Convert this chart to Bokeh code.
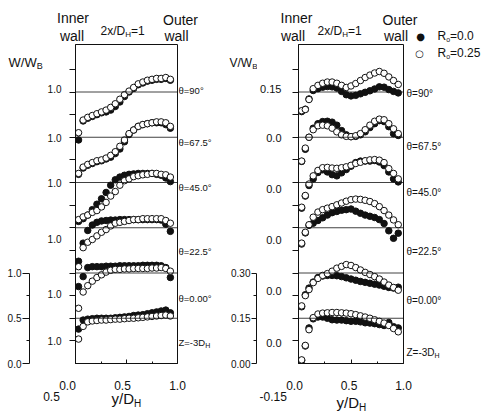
from bokeh.plotting import figure
from bokeh.models import (Range1d, LinearAxis, FixedTicker, NumeralTickFormatter,
                          CustomJSTickFormatter, Span, Label, ColumnDataSource)
from bokeh.layouts import row, column
from bokeh.embed import file_html
from bokeh.resources import INLINE

FONT = "Liberation Sans"
INK = "#111111"

# ---------------- data ----------------
STATIONS = ["θ=90°", "θ=67.5°", "θ=45.0°", "θ=22.5°", "θ=0.00°", "Z=-3D"]

# measurement positions y/D_H
X_LEFT = [0.03, 0.075, 0.12, 0.165, 0.21, 0.255, 0.30, 0.345, 0.39, 0.435, 0.48,
          0.525, 0.57, 0.615, 0.66, 0.705, 0.75, 0.795, 0.84, 0.885, 0.93]
X_RIGHT = [0.03, 0.065, 0.10, 0.14, 0.185, 0.23, 0.275, 0.32, 0.365, 0.41, 0.455,
           0.50, 0.545, 0.59, 0.635, 0.68, 0.725, 0.77, 0.815, 0.86, 0.905, 0.95]

# W/W_B, Ro = 0.0 (filled) and Ro = 0.25 (open)
W90_R0 = [0.47, 0.68, 0.71, 0.73, 0.75, 0.77, 0.78, 0.80, 0.84, 0.89, 0.95, 1.00, 1.04, 1.08, 1.10, 1.12, 1.13, 1.14, 1.14, 1.15, 1.13]
W90_R25 = [0.55, 0.69, 0.72, 0.74, 0.76, 0.78, 0.80, 0.83, 0.87, 0.92, 0.97, 1.01, 1.05, 1.09, 1.11, 1.13, 1.14, 1.15, 1.15, 1.16, 1.14]
W67_R0 = [0.59, 0.66, 0.69, 0.71, 0.73, 0.74, 0.76, 0.78, 0.82, 0.87, 0.95, 1.03, 1.08, 1.12, 1.14, 1.15, 1.16, 1.16, 1.16, 1.14, 1.10]
W67_R25 = [0.60, 0.67, 0.70, 0.72, 0.74, 0.75, 0.77, 0.80, 0.84, 0.90, 0.97, 1.04, 1.08, 1.12, 1.14, 1.15, 1.16, 1.17, 1.17, 1.16, 1.12]
W45_R0 = [0.57, 0.60, 0.64, 0.70, 0.76, 0.82, 0.89, 0.97, 1.03, 1.06, 1.08, 1.09, 1.095, 1.10, 1.10, 1.10, 1.10, 1.09, 1.08, 1.05, 1.01]
W45_R25 = [0.59, 0.62, 0.64, 0.67, 0.69, 0.73, 0.78, 0.85, 0.90, 0.97, 1.02, 1.04, 1.065, 1.075, 1.085, 1.09, 1.10, 1.10, 1.09, 1.085, 1.06]
W22_R0 = [0.63, 0.83, 0.97, 1.03, 1.06, 1.075, 1.08, 1.085, 1.085, 1.09, 1.09, 1.09, 1.09, 1.09, 1.09, 1.09, 1.09, 1.09, 1.085, 1.04, 0.96]
W22_R25 = [0.57, 0.78, 0.84, 0.87, 0.91, 0.95, 0.98, 1.02, 1.05, 1.06, 1.07, 1.08, 1.09, 1.09, 1.10, 1.10, 1.10, 1.10, 1.10, 1.08, 1.05]
W00_R0 = [0.85, 0.96, 1.06, 1.07, 1.07, 1.07, 1.075, 1.075, 1.075, 1.08, 1.08, 1.08, 1.08, 1.08, 1.085, 1.085, 1.085, 1.085, 1.08, 1.06, 0.95]
W00_R25 = [0.61, 0.79, 0.86, 0.91, 0.95, 0.98, 1.01, 1.03, 1.04, 1.04, 1.045, 1.045, 1.05, 1.05, 1.05, 1.05, 1.055, 1.055, 1.06, 1.05, 1.02]
WZ_R0 = [0.88, 0.98, 0.99, 0.995, 1.0, 1.0, 1.0, 1.0, 1.005, 1.01, 1.015, 1.02, 1.03, 1.035, 1.04, 1.05, 1.06, 1.07, 1.08, 1.09, 1.06]
WZ_R25 = [0.77, 0.91, 0.96, 0.97, 0.975, 0.98, 0.98, 0.985, 0.99, 0.99, 0.995, 1.0, 1.0, 1.005, 1.01, 1.015, 1.02, 1.025, 1.03, 1.035, 1.025]

# V/W_B
V90_R0 = [0.085, 0.093, 0.127, 0.155, 0.161, 0.166, 0.168, 0.167, 0.163, 0.152, 0.141, 0.137, 0.139, 0.144, 0.149, 0.154, 0.160, 0.167, 0.166, 0.158, 0.152, 0.147]
V90_R25 = [0.088, 0.092, 0.125, 0.161, 0.172, 0.179, 0.183, 0.183, 0.179, 0.172, 0.165, 0.170, 0.178, 0.188, 0.198, 0.206, 0.213, 0.218, 0.212, 0.200, 0.188, 0.175]
V67_R0 = [-0.080, -0.040, 0.000, 0.030, 0.045, 0.052, 0.053, 0.050, 0.040, 0.022, 0.008, 0.002, 0.003, 0.008, 0.018, 0.032, 0.045, 0.055, 0.052, 0.035, 0.012, 0.006]
V67_R25 = [-0.079, -0.036, 0.000, 0.025, 0.038, 0.040, 0.038, 0.030, 0.018, 0.008, 0.003, 0.002, 0.005, 0.012, 0.025, 0.040, 0.053, 0.060, 0.058, 0.045, 0.028, 0.012]
V45_R0 = [-0.085, -0.045, -0.010, 0.012, 0.033, 0.042, 0.035, 0.026, 0.022, 0.032, 0.043, 0.054, 0.066, 0.071, 0.071, 0.071, 0.073, 0.068, 0.056, 0.035, 0.012, 0.002]
V45_R25 = [-0.082, -0.043, -0.005, 0.022, 0.040, 0.049, 0.050, 0.048, 0.047, 0.049, 0.052, 0.057, 0.063, 0.067, 0.072, 0.075, 0.076, 0.074, 0.066, 0.046, 0.030, 0.012]
V22_R0 = [-0.054, -0.017, 0.008, 0.015, 0.024, 0.033, 0.042, 0.050, 0.054, 0.058, 0.060, 0.062, 0.055, 0.048, 0.042, 0.038, 0.034, 0.027, 0.014, -0.010, -0.035, -0.018]
V22_R25 = [-0.051, -0.015, 0.010, 0.035, 0.052, 0.060, 0.065, 0.070, 0.076, 0.082, 0.088, 0.093, 0.095, 0.094, 0.091, 0.087, 0.080, 0.070, 0.057, 0.042, 0.026, 0.010]
V00_R0 = [-0.112, -0.072, -0.050, -0.030, -0.015, -0.010, -0.008, -0.008, -0.009, -0.012, -0.016, -0.020, -0.024, -0.028, -0.031, -0.034, -0.037, -0.040, -0.044, -0.048, -0.050, -0.047]
V00_R25 = [-0.109, -0.075, -0.055, -0.032, -0.018, -0.008, -0.002, 0.006, 0.016, 0.022, 0.028, 0.025, 0.018, 0.010, 0.002, -0.005, -0.012, -0.020, -0.030, -0.040, -0.048, -0.057]
VZ_R0 = [-0.140, -0.092, -0.032, -0.002, 0.004, 0.004, 0.000, -0.005, -0.006, -0.006, -0.008, -0.010, -0.010, -0.012, -0.015, -0.016, -0.018, -0.021, -0.024, -0.014, -0.028, -0.032]
VZ_R25 = [-0.138, -0.090, -0.038, 0.002, 0.014, 0.017, 0.018, 0.019, 0.019, 0.018, 0.017, 0.015, 0.012, 0.008, 0.004, 0.000, -0.005, -0.010, -0.016, -0.024, -0.034, -0.045]

W_R0 = [W90_R0, W67_R0, W45_R0, W22_R0, W00_R0, WZ_R0]
W_R25 = [W90_R25, W67_R25, W45_R25, W22_R25, W00_R25, WZ_R25]
V_R0 = [V90_R0, V67_R0, V45_R0, V22_R0, V00_R0, VZ_R0]
V_R25 = [V90_R25, V67_R25, V45_R25, V22_R25, V00_R25, VZ_R25]

# stacking offset of each station and position of its reference line
W_OFFSET = [2.0, 1.5, 1.0, 0.5, 0.0, -0.5]
W_LINES = [3.0, 2.5, 2.0, 1.5, 1.0, 0.5]
V_OFFSET = [0.75, 0.75, 0.60, 0.45, 0.30, 0.15]
V_LINES = [0.90, 0.75, 0.60, 0.45, 0.30, 0.15]

# ---------------- geometry (page pixels) ----------------
PX_PER_W = 90.5            # pixels for 1.0 of W/W_B (0.15 of V/W_B -> 0.3 ratio)
FRAME_BOT = 363
MAIN_H = 327               # main row spans y 43..370
W_TOP = 319 / PX_PER_W
V_TOP = W_TOP * 0.3
SCALE_TOP = 123 / PX_PER_W  # scale-bar figures span y 240..370

AW = {"W": 944, "/": 278, "V": 667, "B": 667, "y": 500, "D": 722, "H": 722, "x": 500,
      "2": 556, "=": 584, "1": 556, "Z": 611, "-": 333, "3": 556, "R": 722, "o": 556,
      "0": 556, ".": 278, "5": 556}


def tw(s, size):
    return sum(AW.get(c, 556) for c in s) / 1000.0 * size


def base_fig(w, h, xr, yr, left=0, right=0, top=0, bottom=0):
    p = figure(width=w, height=h, x_range=xr, y_range=yr, x_axis_type=None,
               y_axis_type=None, toolbar_location=None, output_backend="svg", title=None,
               min_border_left=left, min_border_right=right, min_border_top=top,
               min_border_bottom=bottom)
    p.outline_line_color = None
    p.background_fill_color = "white"
    p.border_fill_color = "white"
    return p


def text_fig(x0, y0, w, h):
    # a figure whose frame is its whole canvas, in page-pixel coordinates (y down);
    # wrapped in a row so that sibling plots do not realign its borders
    p = base_fig(w, h, Range1d(x0, x0 + w), Range1d(y0 + h, y0))
    return p


def put(p, px, py, text, size, align="left", font=FONT):
    p.add_layout(Label(x=px, y=py, text=text, text_font=font, text_font_size=f"{size}px",
                       text_color=INK, text_align=align, text_baseline="middle"))


def put_sub(p, px, py, main, sub, size, sub_size, tail="", align="left"):
    total = tw(main, size) + tw(sub, sub_size) + tw(tail, size)
    if align == "right":
        px -= total
    elif align == "center":
        px -= total / 2
    put(p, px, py, main, size)
    sx = px + tw(main, size)
    put(p, sx, py + size * 0.3, sub, sub_size)
    if tail:
        put(p, sx + tw(sub, sub_size), py, tail, size)


def style_axis(ax, size):
    ax.axis_line_color = INK
    ax.major_tick_line_color = INK
    ax.minor_tick_line_color = INK
    ax.major_label_text_font = FONT
    ax.major_label_text_font_size = f"{size}px"
    ax.major_label_text_color = INK


def panel(w, left, ytop, lines, minor, label_pos, label_code, label_standoff, label_size,
          xs, f_series, o_series, offsets):
    p = base_fig(w, MAIN_H, Range1d(0, 1), Range1d(0, ytop), left=left, right=1, top=1, bottom=7)
    p.outline_line_color = INK
    p.outline_line_width = 1
    yax = LinearAxis(ticker=FixedTicker(ticks=label_pos, minor_ticks=minor),
                     formatter=CustomJSTickFormatter(code=label_code))
    style_axis(yax, label_size)
    yax.major_tick_out = 0
    yax.major_tick_in = 0
    yax.minor_tick_out = 6
    yax.minor_tick_in = 0
    yax.major_label_standoff = label_standoff
    p.add_layout(yax, "left")
    xax = LinearAxis(ticker=FixedTicker(ticks=[0, 0.5, 1.0], minor_ticks=[0.25, 0.75]),
                     formatter=CustomJSTickFormatter(code="return ''"))
    style_axis(xax, 12)
    xax.major_label_text_font_size = "0px"
    xax.major_label_standoff = 0
    xax.major_tick_in = 4
    xax.major_tick_out = 0
    xax.minor_tick_in = 2
    xax.minor_tick_out = 0
    p.add_layout(xax, "below")
    for l in lines:
        p.add_layout(Span(location=l, dimension="width", line_color=INK, line_width=0.8))
    fx, fy, ox, oy = [], [], [], []
    for fs, os_, off in zip(f_series, o_series, offsets):
        fx += xs
        fy += [v + off for v in fs]
        ox += xs
        oy += [v + off for v in os_]
    p.scatter("x", "y", source=ColumnDataSource(dict(x=fx, y=fy)), marker="circle",
              size=6.5, fill_color=INK, line_color=INK, line_width=1)
    p.scatter("x", "y", source=ColumnDataSource(dict(x=ox, y=oy)), marker="circle",
              size=6.5, fill_color="white", line_color=INK, line_width=1)
    return p


def scale_fig(w, left, ytop, ticks, minors, fmt, upper, tick_out):
    p = base_fig(w, 130, Range1d(0, 1), Range1d(0, ytop), left=left, right=0, top=0, bottom=7)
    ax = LinearAxis(ticker=FixedTicker(ticks=ticks, minor_ticks=minors),
                    formatter=NumeralTickFormatter(format=fmt), bounds=(0, upper))
    style_axis(ax, 10)
    ax.major_tick_out = tick_out
    ax.major_tick_in = 0
    ax.minor_tick_out = 3
    ax.minor_tick_in = 0
    ax.major_label_standoff = 1
    p.add_layout(ax, "left")
    return p


def xlabel_fig(w, left, right):
    p = base_fig(w, 20, Range1d(0, 1), Range1d(0, 1), left=left, right=right, top=0, bottom=19)
    ax = LinearAxis(ticker=FixedTicker(ticks=[0, 0.5, 1.0]),
                    formatter=NumeralTickFormatter(format="0.0"))
    style_axis(ax, 12)
    ax.axis_line_color = None
    ax.major_tick_line_color = None
    ax.minor_tick_line_color = None
    ax.major_label_standoff = 4
    p.add_layout(ax, "below")
    return p


# ---------------- header band (y 0..43) ----------------
top = text_fig(0, 0, 483, 43)
for cx_in, cx_w1, x2, cx_out, cx_w2 in [(72.5, 71.5, 100, 180, 176), (296, 292.5, 317, 399.5, 395.5)]:
    put(top, cx_in, 17, "Inner", 14, "center")
    put(top, cx_w1, 35, "wall", 14, "center")
    put_sub(top, x2, 30, "2x/D", "H", 12, 8, "=1")
    put(top, cx_out, 19, "Outer", 14, "center")
    put(top, cx_w2, 35, "wall", 14, "center")
put(top, 420, 36, "●", 10, "center", font="DejaVu Sans")
put_sub(top, 437, 35, "R", "o", 12, 7, "=0.0")

# ---------------- left column ----------------
a_text = text_fig(0, 43, 44, 197)
put_sub(a_text, 8, 62, "W/W", "B", 13, 9)
a_scale = scale_fig(44, 29, SCALE_TOP, [0, 0.5, 1.0], [0.25, 0.75], "0.0", 1.0, 7)

# ---------------- W panel ----------------
w_minor = sorted(W_LINES + [l - 0.25 for l in W_LINES] + [W_LINES[0] + 0.25])
w_label_pos = [(FRAME_BOT - py) / PX_PER_W for py in (88, 137, 182, 238, 293, 340)]
pb = panel(134, 23, W_TOP, W_LINES, w_minor, w_label_pos, "return '1.0'", 8, 10,
           X_LEFT, W_R0, W_R25, W_OFFSET)

# ---------------- middle column ----------------
bc_text = text_fig(178, 43, 79, 197)
b_rt = text_fig(178, 240, 44, 130)
for name, py in zip(STATIONS, [90, 142, 187, 251, 298, 342]):
    tgt = bc_text if py < 240 else b_rt
    if name.startswith("Z"):
        put_sub(tgt, 178, py, name, "H", 9.5, 7)
    else:
        put(tgt, 178, py, name, 9.5)
put_sub(bc_text, 257, 62, "V/W", "B", 12, 8, align="right")
c_scale = scale_fig(35, 34, SCALE_TOP * 0.3, [0, 0.15, 0.30], [0.075, 0.225], "0.00", 0.30, 5)

# ---------------- V panel ----------------
v_minor = sorted(V_LINES + [round(l - 0.075, 4) for l in V_LINES] + [V_LINES[0] + 0.075])
v_label_pos = [(FRAME_BOT - py) / PX_PER_W * 0.3 for py in (88, 137, 188, 239, 290, 342)]
pd = panel(147, 37, V_TOP, V_LINES, v_minor, v_label_pos,
           "return tick > 0.85 ? '0.15' : '0.0'", 11, 11, X_RIGHT, V_R0, V_R25, V_OFFSET)

# ---------------- right column ----------------
dr = text_fig(404, 43, 79, 327)
put(dr, 419, 53, "○", 10, "center", font="DejaVu Sans")
put_sub(dr, 437, 52, "R", "o", 12, 7, "=0.25")
for name, py in zip(STATIONS, [93, 146, 192, 251, 300, 352]):
    if name.startswith("Z"):
        put_sub(dr, 406, py, name, "H", 10, 7)
    else:
        put(dr, 406, py, name, 10)

# ---------------- x tick labels row (y 370..390) ----------------
f1 = text_fig(0, 370, 44, 20)
bx = xlabel_fig(156, 23, 23)
f2 = text_fig(200, 370, 57, 20)
dx = xlabel_fig(163, 37, 17)
f3 = text_fig(420, 370, 63, 20)

# ---------------- bottom band (y 390..415) ----------------
bot = text_fig(0, 390, 483, 25)
put(bot, 51, 396, "0.5", 12, "center")
put_sub(bot, 111, 398, "y/D", "H", 15, 10)
put(bot, 259, 396, "-0.15", 12)
put_sub(bot, 336, 402, "y/D", "H", 15, 10)

layout = column(
    top,
    row(column(row(a_text), row(a_scale)), pb,
        column(row(bc_text), row(row(b_rt), row(c_scale))), pd, row(dr)),
    row(row(f1), bx, row(f2), dx, row(f3)),
    bot,
)
open("out.html", "w").write(file_html(layout, INLINE))
